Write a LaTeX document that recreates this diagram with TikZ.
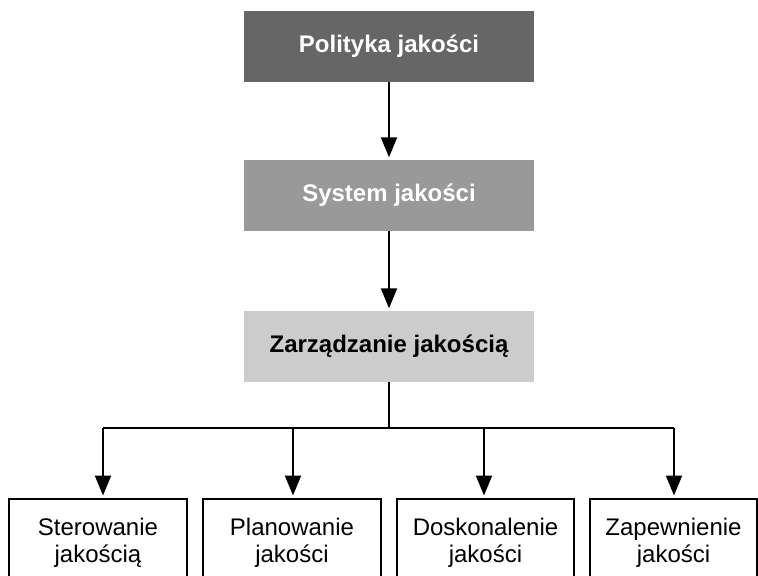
\documentclass[tikz,border=0pt]{standalone}
\usepackage{fontspec}
\setmainfont{Liberation Sans}
\usetikzlibrary{arrows.meta}
\definecolor{cone}{HTML}{666666}
\definecolor{ctwo}{HTML}{999999}
\definecolor{cthree}{HTML}{CCCCCC}
\begin{document}
\begin{tikzpicture}[x=1bp,y=-1bp,
  topbox/.style={minimum width=290bp,minimum height=71bp,inner sep=0pt,
    font=\fontsize{24bp}{28bp}\selectfont\bfseries},
  leafbox/.style={draw=black,line width=2bp,inner sep=0pt,align=center,
    minimum height=88bp,font=\fontsize{24bp}{27.5bp}\selectfont},
  conn/.style={line width=2bp},
  arr/.style={conn,-{Triangle[width=16bp,length=20bp]},shorten >=2.5bp}]
\useasboundingbox (0,0) rectangle (758,576);
\clip (0,0) rectangle (758,576);
\node[topbox,fill=cone,text=white] (pol) at (389,46.5) {Polityka jakości};
\node[topbox,fill=ctwo,text=white] (sys) at (389,195.5) {System jakości};
\node[topbox,fill=cthree,text=black] (zar) at (389,346.5) {Zarządzanie jakością};
\node[leafbox,minimum width=178bp] (ster) at (98,543) {Sterowanie\\jakością};
\node[leafbox,minimum width=178bp] (plan) at (292,543) {Planowanie\\jakości};
\node[leafbox,minimum width=177bp] (dosk) at (485.5,543) {Doskonalenie\\jakości};
\node[leafbox,minimum width=167bp] (zap) at (673.5,543) {Zapewnienie\\jakości};
\draw[arr] (pol) -- (sys);
\draw[arr] (sys) -- (zar);
\coordinate (hub) at (389,428);
\coordinate (ca) at (103,428);
\coordinate (cb) at (293,428);
\coordinate (cc) at (484,428);
\coordinate (cd) at (674,428);
\draw[conn] (zar) -- (hub);
\draw[conn] (ca) -- (cd);
\draw[arr] (ca) -- (ca |- ster.north);
\draw[arr] (cb) -- (cb |- plan.north);
\draw[arr] (cc) -- (cc |- dosk.north);
\draw[arr] (cd) -- (cd |- zap.north);
\end{tikzpicture}
\end{document}
